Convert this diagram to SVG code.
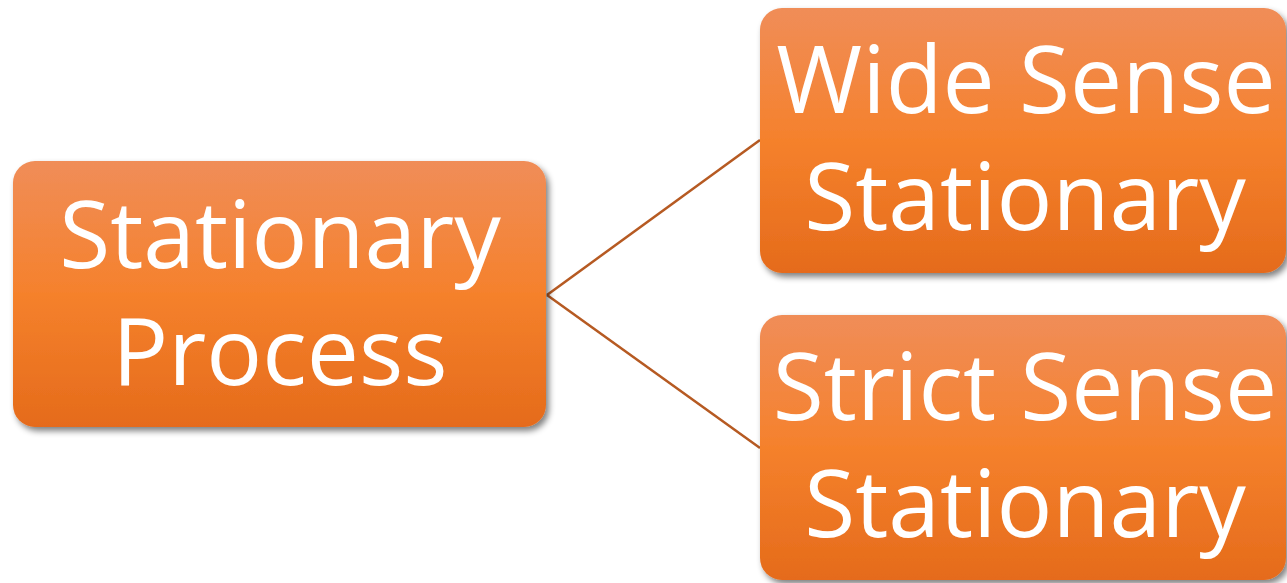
<svg xmlns="http://www.w3.org/2000/svg" width="1287" height="583" viewBox="0 0 1287 583">
<defs>
<linearGradient id="g" x1="0" y1="0" x2="0" y2="1">
<stop offset="0" stop-color="#f08d58"/>
<stop offset="0.5" stop-color="#f5812c"/>
<stop offset="1" stop-color="#e56b1b"/>
</linearGradient>
<filter id="sh" x="-10%" y="-10%" width="120%" height="125%">
<feGaussianBlur in="SourceAlpha" stdDeviation="3"/>
<feOffset dx="3" dy="4" result="b"/>
<feComponentTransfer><feFuncA type="linear" slope="0.5"/></feComponentTransfer>
<feMerge><feMergeNode/><feMergeNode in="SourceGraphic"/></feMerge>
</filter>
</defs>
<style>
.box{fill:url(#g);filter:url(#sh)}
.t{font-family:"Open Sans","Liberation Sans",sans-serif;font-size:93px;fill:#fff;text-anchor:middle}
.c{stroke:#b65a22;stroke-width:2.5;fill:none}
</style>
<g id="connectors">
<line class="c" x1="547" y1="295" x2="760" y2="140"/>
<line class="c" x1="547" y1="295" x2="760" y2="448"/>
</g>
<g id="stationary-process">
<rect class="box" x="13" y="161" width="533" height="266" rx="22"/>
<text class="t" x="280" y="268">Stationary</text>
<text class="t" x="280" y="385">Process</text>
</g>
<g id="wide-sense">
<rect class="box" x="760" y="8" width="526" height="265" rx="22"/>
<text class="t" x="1026" y="113">Wide Sense</text>
<text class="t" x="1025" y="230">Stationary</text>
</g>
<g id="strict-sense">
<rect class="box" x="760" y="315" width="526" height="265" rx="22"/>
<text class="t" x="1025" y="420">Strict Sense</text>
<text class="t" x="1025" y="537">Stationary</text>
</g>
</svg>
